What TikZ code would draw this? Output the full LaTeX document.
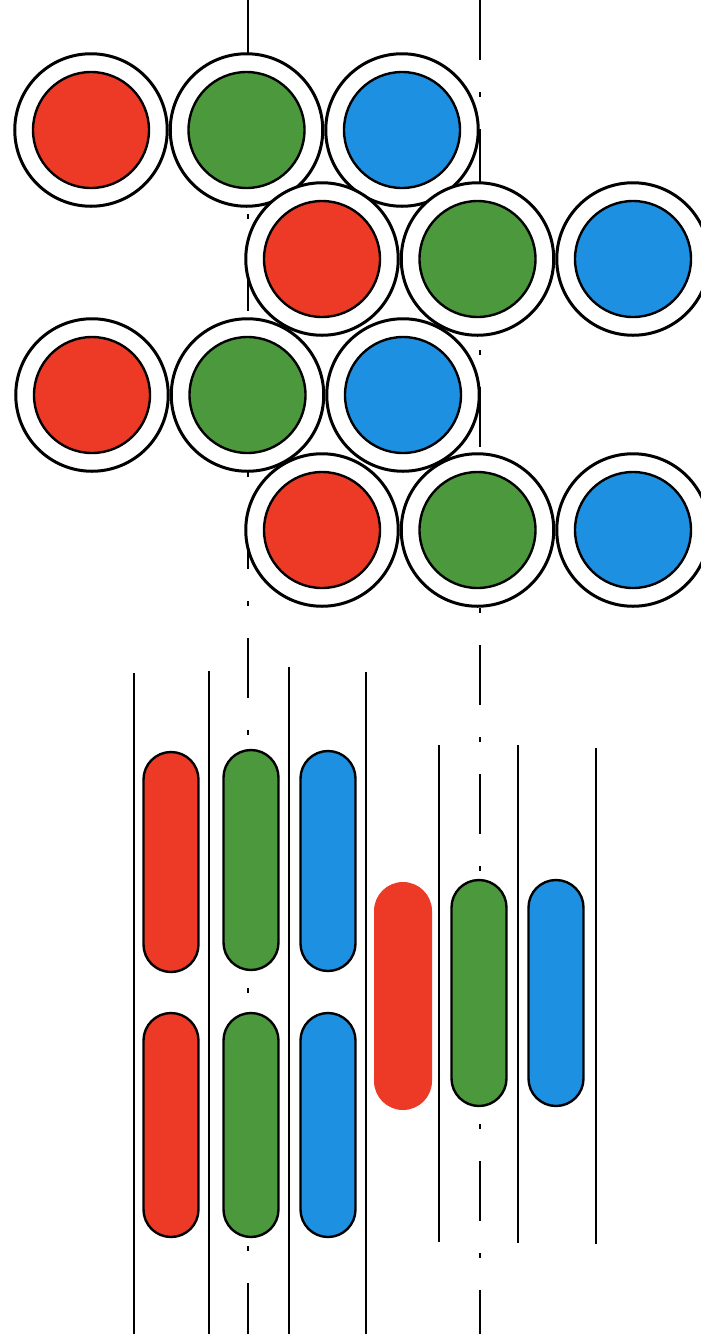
\documentclass[tikz,border=0pt]{standalone}
\usepackage{tikz}
\usetikzlibrary{positioning}
\definecolor{dotred}{HTML}{EC3A26}
\definecolor{dotgreen}{HTML}{4C983C}
\definecolor{dotblue}{HTML}{1E90E2}
\begin{document}
\begin{tikzpicture}[x=1pt,y=-1pt,
  ring/.style={circle,draw,line width=3pt,fill=white,minimum size=152.5pt,inner sep=0pt},
  disc/.style={circle,draw,line width=2.4pt,minimum size=116pt,inner sep=0pt},
  pill/.style={rectangle,draw,line width=2.4pt,rounded corners=27.5pt,minimum width=55pt,
               minimum height=220pt,inner sep=0pt},
  guide/.style={line width=2.2pt},
  centre/.style={line width=2pt,dash pattern=on 60pt off 32pt on 5pt off 32pt}
]
\clip (0,0) rectangle (701,1334);
\fill[white] (0,0) rectangle (701,1334);
% centre lines
\draw[centre] (248,-7) -- (248,1334);
\draw[centre] (480,0) -- (480,1334);
% top: circles
\node[ring] (o1r) at (91,130) {};
\node[ring,right=0pt of o1r] (o1g) {};
\node[ring,right=0pt of o1g] (o1b) {};
\node[ring] (o2r) at (322,259) {};
\node[ring,right=0pt of o2r] (o2g) {};
\node[ring,right=0pt of o2g] (o2b) {};
\node[ring] (o3r) at (92,395) {};
\node[ring,right=0pt of o3r] (o3g) {};
\node[ring,right=0pt of o3g] (o3b) {};
\node[ring] (o4r) at (322,530) {};
\node[ring,right=0pt of o4r] (o4g) {};
\node[ring,right=0pt of o4g] (o4b) {};
\node[disc,fill=dotred] (d1r) at (o1r) {};
\node[disc,fill=dotgreen] (d1g) at (o1g) {};
\node[disc,fill=dotblue] (d1b) at (o1b) {};
\node[disc,fill=dotred] (d2r) at (o2r) {};
\node[disc,fill=dotgreen] (d2g) at (o2g) {};
\node[disc,fill=dotblue] (d2b) at (o2b) {};
\node[disc,fill=dotred] (d3r) at (o3r) {};
\node[disc,fill=dotgreen] (d3g) at (o3g) {};
\node[disc,fill=dotblue] (d3b) at (o3b) {};
\node[disc,fill=dotred] (d4r) at (o4r) {};
\node[disc,fill=dotgreen] (d4g) at (o4g) {};
\node[disc,fill=dotblue] (d4b) at (o4b) {};
% bottom: stripes
\draw[guide] (134,673) -- (134,1334);
\draw[guide] (209,671) -- (209,1334);
\draw[guide] (289,667) -- (289,1334);
\draw[guide] (366,672) -- (366,1334);
\draw[guide] (439,745) -- (439,1242);
\draw[guide] (518,745) -- (518,1243);
\draw[guide] (596,748) -- (596,1244);
\node[pill,fill=dotred] (p1r) at (171,862) {};
\node[pill,fill=dotgreen] (p1g) at (251,860) {};
\node[pill,fill=dotblue] (p1b) at (328,861) {};
\node[pill,fill=dotred,minimum height=224pt] (p2r) at (171,1125) {};
\node[pill,fill=dotgreen,minimum height=224pt] (p2g) at (251,1125) {};
\node[pill,fill=dotblue,minimum height=224pt] (p2b) at (328,1125) {};
\node[pill,fill=dotred,draw=none,minimum width=58pt,minimum height=228pt,rounded corners=29pt] (p3r) at (403,996) {};
\node[pill,fill=dotgreen,minimum height=226pt] (p3g) at (479,993) {};
\node[pill,fill=dotblue,minimum height=226pt] (p3b) at (556,993) {};
\end{tikzpicture}
\end{document}
